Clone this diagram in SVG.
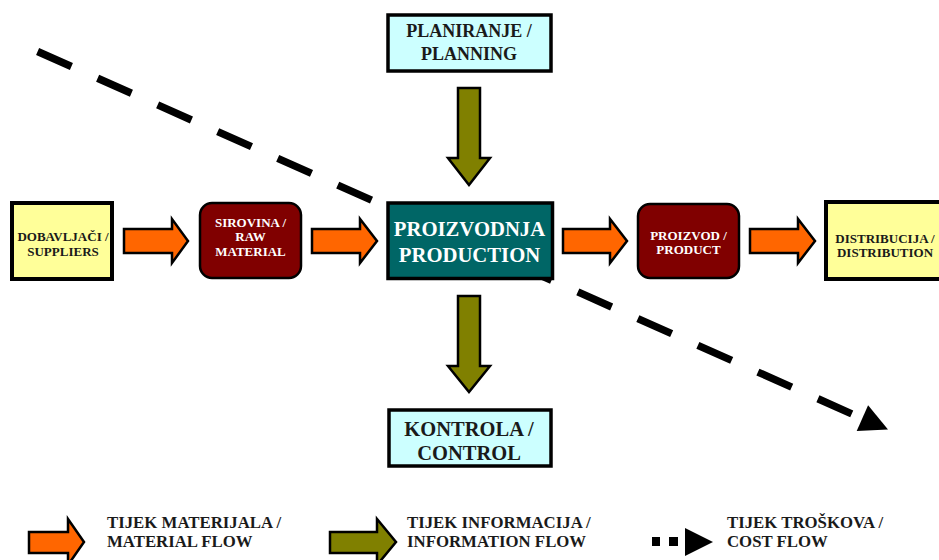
<svg xmlns="http://www.w3.org/2000/svg" width="939" height="560" viewBox="0 0 939 560">
<style>
.t{font-family:"Liberation Serif","Times New Roman",serif;font-weight:bold;text-anchor:middle}
.dk{fill:#1a1a1a}
.wh{fill:#ffffff}
.sm{font-size:13px}
.lg{font-family:"Liberation Serif","Times New Roman",serif;font-weight:bold;fill:#1a1a1a;font-size:16.8px}
.mat{fill:#FF6600;stroke:#000;stroke-width:2.5;stroke-linejoin:miter}
.inf{fill:#808000;stroke:#000;stroke-width:2.5;stroke-linejoin:miter}
.cost{fill:none;stroke:#000;stroke-width:7.5;stroke-dasharray:37 28.7}
</style>
<rect width="939" height="560" fill="#fff"/>
<g id="connectors">
<path id="cost-flow" class="cost" d="M37.6,51.5 L852.6,414.2"/>
<polygon points="888,429.5 856.7,430.9 868.1,405.3" fill="#000"/>
<polygon id="a-sup-raw" class="mat" points="124,229 172,229 172,219 188,241 172,263 172,253 124,253"/>
<polygon id="a-raw-prod" class="mat" points="312,229 360,229 360,219 377,241 360,263 360,253 312,253"/>
<polygon id="a-prod-prd" class="mat" points="563,229 610,229 610,219 627,241 610,263 610,253 563,253"/>
<polygon id="a-prd-dist" class="mat" points="750,229 798,229 798,219 815,241 798,263 798,253 750,253"/>
<polygon id="a-plan-prod" class="inf" points="458,88 480,88 480,158 490,158 469,185 448,158 458,158"/>
<polygon id="a-prod-ctrl" class="inf" points="458,296 480,296 480,366 490,366 469,392 448,366 458,366"/>
</g>
<g id="planning">
<rect x="388" y="15" width="163" height="56" fill="#CCFFFF" stroke="#000" stroke-width="3.5"/>
<text class="t dk" x="469" y="37" font-size="18">PLANIRANJE /</text>
<text class="t dk" x="469" y="60" font-size="18">PLANNING</text>
</g>
<g id="suppliers">
<rect x="12" y="203" width="100" height="76" fill="#FFFF99" stroke="#000" stroke-width="4"/>
<text class="t dk sm" x="63" y="241">DOBAVLJAČI /</text>
<text class="t dk sm" x="63" y="256">SUPPLIERS</text>
</g>
<g id="raw-material">
<rect x="200" y="203" width="101" height="75" rx="12" fill="#800000" stroke="#000" stroke-width="2.5"/>
<text class="t wh sm" x="250.5" y="226.5">SIROVINA /</text>
<text class="t wh sm" x="250.5" y="241">RAW</text>
<text class="t wh sm" x="250.5" y="256">MATERIAL</text>
</g>
<g id="production">
<rect x="388" y="203" width="164.5" height="75.5" fill="#006666" stroke="#000" stroke-width="3.5"/>
<text class="t wh" x="469.5" y="236" font-size="20.7">PROIZVODNJA</text>
<text class="t wh" x="469.5" y="262" font-size="20.7">PRODUCTION</text>
</g>
<g id="product">
<rect x="638" y="204" width="101" height="74" rx="12" fill="#800000" stroke="#000" stroke-width="2.5"/>
<text class="t wh sm" x="688.5" y="240">PROIZVOD /</text>
<text class="t wh sm" x="688.5" y="254">PRODUCT</text>
</g>
<g id="distribution">
<rect x="826" y="202" width="130" height="77" fill="#FFFF99" stroke="#000" stroke-width="4"/>
<text class="t dk sm" x="885" y="243">DISTRIBUCIJA /</text>
<text class="t dk sm" x="885" y="257">DISTRIBUTION</text>
</g>
<g id="control">
<rect x="389" y="410" width="162" height="56" fill="#CCFFFF" stroke="#000" stroke-width="3.5"/>
<text class="t dk" x="469" y="436" font-size="20.5">KONTROLA /</text>
<text class="t dk" x="469" y="460" font-size="20.5">CONTROL</text>
</g>
<g id="legend">
<polygon class="mat" points="29,532 68,532 68,519 84,542 68,565 68,553 29,553"/>
<text class="lg" x="107" y="528">TIJEK MATERIJALA /</text>
<text class="lg" x="107" y="547">MATERIAL FLOW</text>
<polygon class="inf" points="330,532 377,532 377,519 396,542 377,565 377,553 330,553"/>
<text class="lg" x="407" y="528">TIJEK INFORMACIJA /</text>
<text class="lg" x="407" y="547">INFORMATION FLOW</text>
<rect x="652" y="537" width="8" height="9" fill="#000"/>
<rect x="669" y="537" width="9" height="9" fill="#000"/>
<polygon points="685,528 713,542 685,556" fill="#000"/>
<text class="lg" x="727" y="528">TIJEK TROŠKOVA /</text>
<text class="lg" x="727" y="547">COST FLOW</text>
</g>
</svg>
